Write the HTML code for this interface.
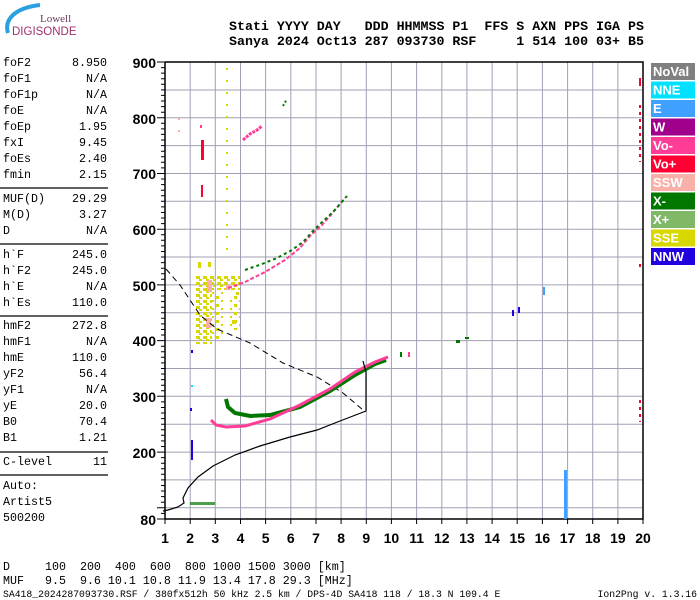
<!DOCTYPE html>
<html><head><meta charset="utf-8"><style>
html,body{margin:0;padding:0;background:#fff;width:700px;height:600px;overflow:hidden}
svg{display:block}
.m{font-family:"Liberation Mono",monospace;font-size:11.67px;fill:#000}
.h{font-family:"Liberation Mono",monospace;font-size:13.3px;font-weight:bold;fill:#000}
.ax{font-family:"Liberation Sans",sans-serif;font-size:14px;font-weight:bold;fill:#000}
.lg{font-family:"Liberation Sans",sans-serif;font-size:13px;font-weight:bold;fill:#fff}
</style></head><body>
<svg width="700" height="600" viewBox="0 0 700 600" xmlns="http://www.w3.org/2000/svg">
<defs>
<pattern id="yp" width="7" height="6" patternUnits="userSpaceOnUse">
<rect x="0" y="0" width="4" height="3" fill="#d8d800"/><rect x="3" y="3" width="3" height="2" fill="#d8d800"/>
</pattern>
<pattern id="yp2" width="9" height="8" patternUnits="userSpaceOnUse">
<rect x="0" y="0" width="3" height="3" fill="#d8d800"/><rect x="5" y="4" width="2" height="2" fill="#d8d800"/>
</pattern>
</defs>
<!-- logo -->
<path d="M8,33 C4,20 14,8 40,5" stroke="#2aa0e0" stroke-width="4" fill="none"/>
<text x="40" y="22" font-family="Liberation Serif,serif" font-size="11" fill="#6a3a5a">Lowell</text>
<text x="12" y="35" font-family="Liberation Sans,sans-serif" font-size="11.5" fill="#a0306a">DIGISONDE</text>
<!-- header -->
<text class="h" x="229" y="30" xml:space="preserve">Stati YYYY DAY   DDD HHMMSS P1  FFS S AXN PPS IGA PS</text>
<text class="h" x="229" y="45" xml:space="preserve">Sanya 2024 Oct13 287 093730 RSF     1 514 100 03+ B5</text>
<!-- left panel -->
<g class="m">
<text x="3" y="66">foF2</text><text x="107" y="66" text-anchor="end">8.950</text>
<text x="3" y="82">foF1</text><text x="107" y="82" text-anchor="end">N/A</text>
<text x="3" y="98">foF1p</text><text x="107" y="98" text-anchor="end">N/A</text>
<text x="3" y="114">foE</text><text x="107" y="114" text-anchor="end">N/A</text>
<text x="3" y="130">foEp</text><text x="107" y="130" text-anchor="end">1.95</text>
<text x="3" y="146">fxI</text><text x="107" y="146" text-anchor="end">9.45</text>
<text x="3" y="162">foEs</text><text x="107" y="162" text-anchor="end">2.40</text>
<text x="3" y="178">fmin</text><text x="107" y="178" text-anchor="end">2.15</text>
<text x="3" y="202">MUF(D)</text><text x="107" y="202" text-anchor="end">29.29</text>
<text x="3" y="218">M(D)</text><text x="107" y="218" text-anchor="end">3.27</text>
<text x="3" y="234">D</text><text x="107" y="234" text-anchor="end">N/A</text>
<text x="3" y="258">h`F</text><text x="107" y="258" text-anchor="end">245.0</text>
<text x="3" y="274">h`F2</text><text x="107" y="274" text-anchor="end">245.0</text>
<text x="3" y="290">h`E</text><text x="107" y="290" text-anchor="end">N/A</text>
<text x="3" y="306">h`Es</text><text x="107" y="306" text-anchor="end">110.0</text>
<text x="3" y="329">hmF2</text><text x="107" y="329" text-anchor="end">272.8</text>
<text x="3" y="345">hmF1</text><text x="107" y="345" text-anchor="end">N/A</text>
<text x="3" y="361">hmE</text><text x="107" y="361" text-anchor="end">110.0</text>
<text x="3" y="377">yF2</text><text x="107" y="377" text-anchor="end">56.4</text>
<text x="3" y="393">yF1</text><text x="107" y="393" text-anchor="end">N/A</text>
<text x="3" y="409">yE</text><text x="107" y="409" text-anchor="end">20.0</text>
<text x="3" y="425">B0</text><text x="107" y="425" text-anchor="end">70.4</text>
<text x="3" y="441">B1</text><text x="107" y="441" text-anchor="end">1.21</text>
<text x="3" y="465">C-level</text><text x="107" y="465" text-anchor="end">11</text>
<text x="3" y="489">Auto:</text>
<text x="3" y="505">Artist5</text>
<text x="3" y="521">500200</text>
</g>
<g stroke="#000" stroke-width="1.2">
<line x1="0" y1="188" x2="108" y2="188"/><line x1="0" y1="244" x2="108" y2="244"/>
<line x1="0" y1="316" x2="108" y2="316"/><line x1="0" y1="452" x2="108" y2="452"/>
<line x1="0" y1="475" x2="108" y2="475"/>
</g>
<!-- grid -->
<g stroke="#a0a0b4" stroke-width="1">
<line x1="190.2" y1="62" x2="190.2" y2="519"/><line x1="215.3" y1="62" x2="215.3" y2="519"/>
<line x1="240.5" y1="62" x2="240.5" y2="519"/><line x1="265.6" y1="62" x2="265.6" y2="519"/>
<line x1="290.8" y1="62" x2="290.8" y2="519"/><line x1="316" y1="62" x2="316" y2="519"/>
<line x1="341.1" y1="62" x2="341.1" y2="519"/><line x1="366.3" y1="62" x2="366.3" y2="519"/>
<line x1="391.4" y1="62" x2="391.4" y2="519"/><line x1="416.6" y1="62" x2="416.6" y2="519"/>
<line x1="441.8" y1="62" x2="441.8" y2="519"/><line x1="466.9" y1="62" x2="466.9" y2="519"/>
<line x1="492.1" y1="62" x2="492.1" y2="519"/><line x1="517.2" y1="62" x2="517.2" y2="519"/>
<line x1="542.4" y1="62" x2="542.4" y2="519"/><line x1="567.6" y1="62" x2="567.6" y2="519"/>
<line x1="592.7" y1="62" x2="592.7" y2="519"/><line x1="617.9" y1="62" x2="617.9" y2="519"/>
<line x1="165" y1="90" x2="643" y2="90"/><line x1="165" y1="117.7" x2="643" y2="117.7"/>
<line x1="165" y1="145.6" x2="643" y2="145.6"/><line x1="165" y1="173.5" x2="643" y2="173.5"/>
<line x1="165" y1="201.3" x2="643" y2="201.3"/><line x1="165" y1="229.2" x2="643" y2="229.2"/>
<line x1="165" y1="257" x2="643" y2="257"/><line x1="165" y1="284.9" x2="643" y2="284.9"/>
<line x1="165" y1="312.8" x2="643" y2="312.8"/><line x1="165" y1="340.6" x2="643" y2="340.6"/>
<line x1="165" y1="368.5" x2="643" y2="368.5"/><line x1="165" y1="396.3" x2="643" y2="396.3"/>
<line x1="165" y1="424.2" x2="643" y2="424.2"/><line x1="165" y1="452.1" x2="643" y2="452.1"/>
<line x1="165" y1="479.9" x2="643" y2="479.9"/><line x1="165" y1="507.8" x2="643" y2="507.8"/>
</g>
<!-- axes -->
<polyline points="165,62 643,62 643,519 165,519 165,62" stroke="#000" stroke-width="1.5" fill="none"/>
<path stroke="#000" stroke-width="1" fill="none" d="
M161,67.6h4M161,73.1h4M161,78.7h4M161,84.3h4M161,89.9h4M161,95.4h4M161,101h4M161,106.6h4M161,112.2h4
M161,123.3h4M161,128.9h4M161,134.4h4M161,140h4M161,145.6h4M161,151.2h4M161,156.7h4M161,162.3h4M161,167.9h4
M161,179h4M161,184.6h4M161,190.2h4M161,195.8h4M161,201.3h4M161,206.9h4M161,212.5h4M161,218h4M161,223.6h4
M161,234.8h4M161,240.3h4M161,245.9h4M161,251.5h4M161,257h4M161,262.6h4M161,268.2h4M161,273.8h4M161,279.3h4
M161,290.5h4M161,296h4M161,301.6h4M161,307.2h4M161,312.8h4M161,318.3h4M161,323.9h4M161,329.5h4M161,335h4
M161,346.2h4M161,351.8h4M161,357.3h4M161,362.9h4M161,368.5h4M161,374h4M161,379.6h4M161,385.2h4M161,390.8h4
M161,401.9h4M161,407.5h4M161,413h4M161,418.6h4M161,424.2h4M161,429.8h4M161,435.3h4M161,440.9h4M161,446.5h4
M161,457.6h4M161,463.2h4M161,468.8h4M161,474.3h4M161,479.9h4M161,485.5h4M161,491h4M161,496.6h4M161,502.2h4
M161,513.4h4
M157,62h8M157,117.7h8M157,173.5h8M157,229.2h8M157,284.9h8M157,340.6h8M157,396.3h8M157,452.1h8M157,507.8h8M157,519h8
M165,519v5M190.2,519v5M215.3,519v5M240.5,519v5M265.6,519v5M290.8,519v5M316,519v5M341.1,519v5M366.3,519v5M391.4,519v5
M416.6,519v5M441.8,519v5M466.9,519v5M492.1,519v5M517.2,519v5M542.4,519v5M567.6,519v5M592.7,519v5M617.9,519v5M643,519v5"/>
<g class="ax" text-anchor="end">
<text x="156" y="68">900</text><text x="156" y="124">800</text><text x="156" y="179">700</text>
<text x="156" y="235">600</text><text x="156" y="291">500</text><text x="156" y="346">400</text>
<text x="156" y="402">300</text><text x="156" y="458">200</text><text x="156" y="525">80</text>
</g>
<g class="ax" text-anchor="middle">
<text x="165" y="543">1</text><text x="190.2" y="543">2</text><text x="215.3" y="543">3</text><text x="240.5" y="543">4</text>
<text x="265.6" y="543">5</text><text x="290.8" y="543">6</text><text x="316" y="543">7</text><text x="341.1" y="543">8</text>
<text x="366.3" y="543">9</text><text x="391.4" y="543">10</text><text x="416.6" y="543">11</text><text x="441.8" y="543">12</text>
<text x="466.9" y="543">13</text><text x="492.1" y="543">14</text><text x="517.2" y="543">15</text><text x="542.4" y="543">16</text>
<text x="567.6" y="543">17</text><text x="592.7" y="543">18</text><text x="617.9" y="543">19</text><text x="643" y="543">20</text>
</g>
<!-- yellow block -->
<rect x="196" y="276" width="16" height="68" fill="url(#yp)"/>
<rect x="212" y="276" width="28" height="14" fill="url(#yp)"/>
<rect x="212" y="292" width="12" height="48" fill="url(#yp2)"/>
<rect x="228" y="296" width="12" height="34" fill="url(#yp2)"/>
<g fill="#d8d800">
<rect x="198" y="262" width="3" height="6"/><rect x="208" y="262" width="3" height="5"/>
<rect x="232" y="320" width="4" height="4"/><rect x="236" y="292" width="3" height="3"/>
</g>
<g fill="#f8b0a8">
<rect x="207" y="280" width="5" height="12"/><rect x="206" y="318" width="5" height="10"/><rect x="226" y="285" width="4" height="5"/>
</g>
<line x1="227" y1="68" x2="227" y2="260" stroke="#d8d800" stroke-width="2" stroke-dasharray="2,10"/>
<!-- dashed curve -->
<polyline points="166,269 180,285 200,315 217,329 250,343 283,363 317,377 343,393 363,410" fill="none" stroke="#000" stroke-width="1" stroke-dasharray="6,4"/>
<!-- X trace -->
<polyline points="226,399 228,407 235,413 250,416 270,415 300,407 330,391 355,375 375,364 386,360" fill="none" stroke="#007800" stroke-width="4"/>
<!-- O trace -->
<polyline points="211,420 216,425 226,427 245,426 270,419 300,405 330,389 355,372 375,362 388,357" fill="none" stroke="#ff3c96" stroke-width="3"/>
<!-- profile -->
<polyline points="363,361 366,372 366,395 366,411 340,421 317,430 290,437 260,446 235,455 213,466 198,477 188,488 183,498 184,503 178,507 168,510 163,511" fill="none" stroke="#000" stroke-width="1.2"/>
<!-- second hop -->
<polyline points="228,288 245,282 265,272 285,260 300,248 310,236 322,225 335,210 345,198" fill="none" stroke="#ff3c96" stroke-width="2" stroke-dasharray="4,2"/>
<polyline points="245,270 262,264 277,258 292,250 303,242 312,232 320,224 333,212 347,196" fill="none" stroke="#007800" stroke-width="2" stroke-dasharray="3,3"/>
<polyline points="243,140 250,134 257,130 262,126" fill="none" stroke="#ff3c96" stroke-width="3" stroke-dasharray="3,1"/>
<polyline points="283,106 287,99" fill="none" stroke="#007800" stroke-width="2" stroke-dasharray="2,2"/>
<!-- misc bits -->
<g>
<rect x="201" y="140" width="3" height="20" fill="#ff0033"/><rect x="201" y="185" width="2" height="12" fill="#ff0033"/>
<rect x="178" y="118" width="2" height="2" fill="#f8b0a8"/><rect x="178" y="130" width="2" height="2" fill="#f8b0a8"/>
<rect x="200" y="125" width="2" height="3" fill="#ff3c96"/>
<rect x="191" y="350" width="2" height="3" fill="#2000e0"/><rect x="191" y="385" width="2" height="2" fill="#00e0ff"/>
<rect x="191" y="440" width="2" height="20" fill="#2000e0"/><rect x="190" y="408" width="2" height="3" fill="#2000e0"/>
<rect x="456" y="340" width="4" height="3" fill="#007800"/><rect x="465" y="337" width="4" height="2" fill="#007800"/>
<rect x="400" y="352" width="2" height="5" fill="#007800"/><rect x="408" y="352" width="2" height="5" fill="#ff3c96"/>
<rect x="512" y="310" width="2" height="6" fill="#2000e0"/><rect x="518" y="307" width="2" height="6" fill="#2000e0"/>
<rect x="543" y="287" width="2" height="8" fill="#3fa0ff"/>
<rect x="564" y="470" width="3" height="49" fill="#3fa0ff"/>
<rect x="190" y="502" width="25" height="3" fill="#007800" opacity="0.7"/>
<rect x="639" y="78" width="2" height="8" fill="#ff0033"/>
<line x1="640" y1="105" x2="640" y2="162" stroke="#ff0033" stroke-width="2" stroke-dasharray="3,4"/>
<rect x="639" y="264" width="2" height="3" fill="#ff0033"/>
<line x1="640" y1="400" x2="640" y2="422" stroke="#ff0033" stroke-width="2" stroke-dasharray="3,4"/>
</g>
<!-- legend -->
<g>
<rect x="651" y="63" width="44" height="17" fill="#808080"/><text class="lg" x="653" y="76">NoVal</text>
<rect x="651" y="81.5" width="44" height="17" fill="#00e0ff"/><text class="lg" x="653" y="94.5">NNE</text>
<rect x="651" y="100" width="44" height="17" fill="#3fa0ff"/><text class="lg" x="653" y="113">E</text>
<rect x="651" y="118.5" width="44" height="17" fill="#a0008c"/><text class="lg" x="653" y="131.5">W</text>
<rect x="651" y="137" width="44" height="17" fill="#ff3c96"/><text class="lg" x="653" y="150">Vo-</text>
<rect x="651" y="155.5" width="44" height="17" fill="#ff0033"/><text class="lg" x="653" y="168.5">Vo+</text>
<rect x="651" y="174" width="44" height="17" fill="#f8b0a8"/><text class="lg" x="653" y="187">SSW</text>
<rect x="651" y="192.5" width="44" height="17" fill="#007800"/><text class="lg" x="653" y="205.5">X-</text>
<rect x="651" y="211" width="44" height="17" fill="#80b868"/><text class="lg" x="653" y="224">X+</text>
<rect x="651" y="229.5" width="44" height="17" fill="#d8d800"/><text class="lg" x="653" y="242.5">SSE</text>
<rect x="651" y="248" width="44" height="17" fill="#2000e0"/><text class="lg" x="653" y="261">NNW</text>
</g>
<!-- bottom text -->
<text class="m" x="3" y="570" xml:space="preserve">D     100  200  400  600  800 1000 1500 3000 [km]</text>
<text class="m" x="3" y="584" xml:space="preserve">MUF   9.5  9.6 10.1 10.8 11.9 13.4 17.8 29.3 [MHz]</text>
<text x="3" y="597" font-family="Liberation Mono,monospace" font-size="9.75" fill="#000">SA418_2024287093730.RSF / 380fx512h 50 kHz 2.5 km / DPS-4D SA418 118 / 18.3 N 109.4 E</text>
<text x="697" y="597" text-anchor="end" font-family="Liberation Mono,monospace" font-size="9.75" fill="#000">Ion2Png v. 1.3.16</text>
</svg>
</body></html>
